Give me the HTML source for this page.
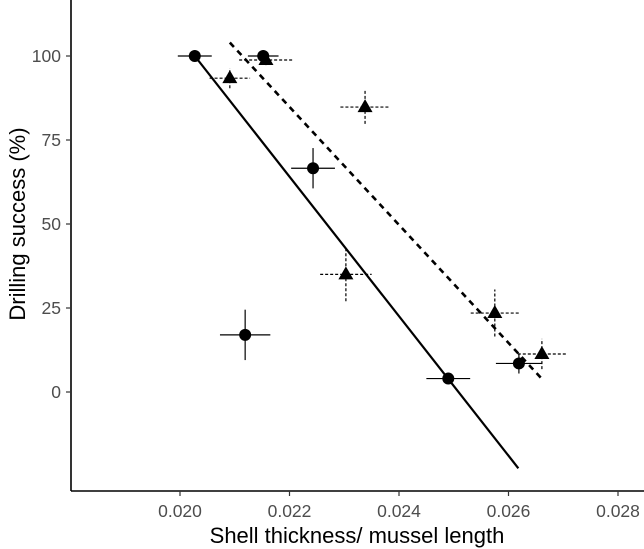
<!DOCTYPE html>
<html><head><meta charset="utf-8"><style>
html,body{margin:0;padding:0;background:#fff;}
svg{display:block;font-family:"Liberation Sans",sans-serif;}
</style></head><body>
<svg id="chart" width="644" height="549" viewBox="0 0 644 549"></svg>
<script>
const xTicks=[0.020,0.022,0.024,0.026,0.028];
const xTickLabels=["0.020","0.022","0.024","0.026","0.028"];
const yTicks=[0,25,50,75,100];
const yTickLabels=["0","25","50","75","100"];
const circX=[0.02027,0.02152,0.02243,0.02119,0.02490,0.02619];
const circY=[100,100,66.6,17,4,8.5];
const circXErr=[0.00031,0.00028,0.0004,0.00046,0.0004,0.00042];
const circYErr=[0,0,6,7.5,1.5,3];
const triX=[0.02091,0.02157,0.02338,0.02303,0.02575,0.02661];
const triY=[93.4,98.8,84.8,35,23.5,11.3];
const triXErr=[0.00037,0.00049,0.00045,0.00047,0.00044,0.00044];
const triYErr=[3,1.5,5,8,7,4.5];
const solidLineX=[0.02027,0.02618];
const solidLineY=[100,-22.7];
const dashLineX=[0.02091,0.02661];
const dashLineY=[104,3.9];

const NS="http://www.w3.org/2000/svg";
const svg=document.getElementById('chart');
const X=v=>180+(v-0.020)*54750;
const Y=v=>392-v*3.36;
function mk(tag,attrs,parent){const e=document.createElementNS(NS,tag);for(const k in attrs)e.setAttribute(k,attrs[k]);(parent||svg).appendChild(e);return e;}

let ax=mk('line',{x1:71,y1:0,x2:71,y2:491,stroke:'#000','stroke-width':1.6});


ax=mk('line',{x1:71,y1:491,x2:644,y2:491,stroke:'#000','stroke-width':1.6});



xTicks.forEach((t,i)=>{
  const l=mk('line',{x1:X(t),y1:491,x2:X(t),y2:496,stroke:'#333','stroke-width':1.2});
  
  
  const tx=mk('text',{x:X(t),y:517,'text-anchor':'middle','font-size':17.5,fill:'#4d4d4d'});
  tx.textContent=xTickLabels[i];
  
  
});
yTicks.forEach((t,i)=>{
  const l=mk('line',{x1:66,y1:Y(t),x2:71,y2:Y(t),stroke:'#333','stroke-width':1.2});
  
  
  const tx=mk('text',{x:61,y:Y(t)+6,'text-anchor':'end','font-size':17.5,fill:'#4d4d4d'});
  tx.textContent=yTickLabels[i];
  
  
});
let tt=mk('text',{x:357,y:543,'text-anchor':'middle','font-size':22,fill:'#000'});
tt.textContent='Shell thickness/ mussel length';


tt=mk('text',{x:0,y:0,'text-anchor':'middle','font-size':22,fill:'#000',transform:'translate(25,224) rotate(-90)'});
tt.textContent='Drilling success (%)';



let fl=mk('line',{x1:X(solidLineX[0]),y1:Y(solidLineY[0]),x2:X(solidLineX[1]),y2:Y(solidLineY[1]),stroke:'#000','stroke-width':2.2});


fl=mk('line',{x1:X(dashLineX[0]),y1:Y(dashLineY[0]),x2:X(dashLineX[1]),y2:Y(dashLineY[1]),stroke:'#000','stroke-width':2.6,'stroke-dasharray':'6,5'});



circX.forEach((v,i)=>{
  const g=mk('g',{});
  
  
  const cx=X(v),cy=Y(circY[i]);
  mk('line',{x1:X(v-circXErr[i]),y1:cy,x2:X(v+circXErr[i]),y2:cy,stroke:'#000','stroke-width':1.2},g);
  if(circYErr[i]>0)mk('line',{x1:cx,y1:Y(circY[i]-circYErr[i]),x2:cx,y2:Y(circY[i]+circYErr[i]),stroke:'#000','stroke-width':1.2},g);
  mk('circle',{cx:cx,cy:cy,r:6,fill:'#000'},g);
});
triX.forEach((v,i)=>{
  const g=mk('g',{});
  
  
  const cx=X(v),cy=Y(triY[i]);
  mk('line',{x1:X(v-triXErr[i]),y1:cy,x2:X(v+triXErr[i]),y2:cy,stroke:'#000','stroke-width':1.2,'stroke-dasharray':'3,2'},g);
  mk('line',{x1:cx,y1:Y(triY[i]-triYErr[i]),x2:cx,y2:Y(triY[i]+triYErr[i]),stroke:'#000','stroke-width':1.2,'stroke-dasharray':'3,2'},g);
  mk('polygon',{points:`${cx},${cy-8} ${cx-7.5},${cy+5} ${cx+7.5},${cy+5}`,fill:'#000'},g);
});
</script>
</body></html>
